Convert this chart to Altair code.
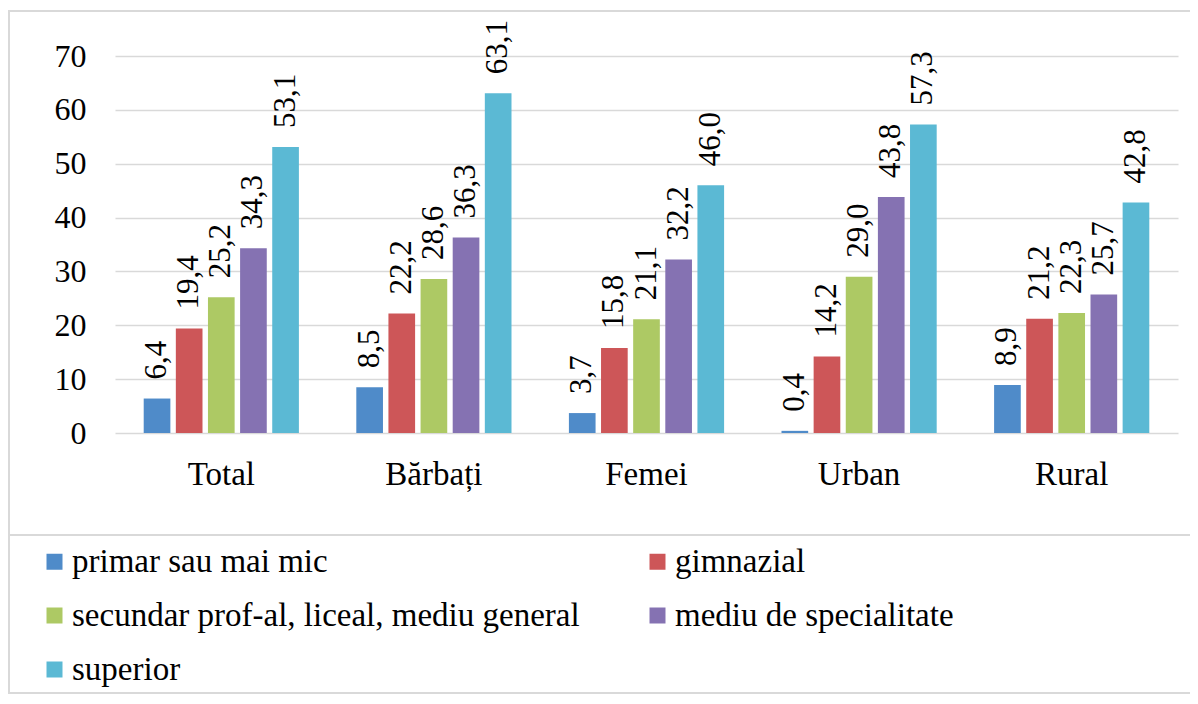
import altair as alt
import pandas as pd

categories = ["Total", "Bărbați", "Femei", "Urban", "Rural"]
series = ["primar sau mai mic", "gimnazial", "secundar prof-al, liceal, mediu general",
          "mediu de specialitate", "superior"]
colors = ["#4f8bc9", "#cd5658", "#adc964", "#8572b2", "#5bb9d4"]

primar = [6.4, 8.5, 3.7, 0.4, 8.9]
gimnazial = [19.4, 22.2, 15.8, 14.2, 21.2]
secundar = [25.2, 28.6, 21.1, 29.0, 22.3]
mediu = [34.3, 36.3, 32.2, 43.8, 25.7]
superior = [53.1, 63.1, 46.0, 57.3, 42.8]

y_ticks = [0, 10, 20, 30, 40, 50, 60, 70]

rows = []
for s, vals in zip(series, [primar, gimnazial, secundar, mediu, superior]):
    for c, v in zip(categories, vals):
        rows.append({"cat": c, "serie": s, "val": v,
                     "label": f"{v:.1f}".replace(".", ",")})
df = pd.DataFrame(rows)

FONT = "Liberation Serif"
W, H = 1063, 377

y_axis = alt.Axis(values=y_ticks, labelFont=FONT, labelFontSize=32,
                  labelColor="#000000", labelPadding=29, ticks=False,
                  tickSize=0, domain=False, grid=True,
                  gridColor="#d9d9d9", gridWidth=1.5)

base = alt.Chart(df).encode(
    x=alt.X("cat:N", sort=categories, title=None,
            scale=alt.Scale(paddingInner=0.27, paddingOuter=0.135),
            axis=alt.Axis(labelAngle=0, labelFont=FONT, labelFontSize=33,
                          labelColor="#000000", labelPadding=25, ticks=False,
                          tickSize=0, domain=False, grid=False)),
    xOffset=alt.XOffset("serie:N", sort=series,
                        scale=alt.Scale(paddingInner=0.17, paddingOuter=0)),
    y=alt.Y("val:Q", title=None,
            scale=alt.Scale(domain=[0, 70], nice=False), axis=y_axis),
)

bars = base.mark_bar().encode(
    color=alt.Color("serie:N", sort=series,
                    scale=alt.Scale(domain=series, range=colors),
                    legend=alt.Legend(title=None, orient="none", direction="horizontal",
                                      legendX=-77, legendY=489, columns=2,
                                      columnPadding=61, rowPadding=20,
                                      symbolType="square", symbolSize=256,
                                      symbolStrokeWidth=0,
                                      labelFont=FONT, labelFontSize=33,
                                      labelColor="#000000", labelOffset=1,
                                      labelLimit=800, padding=0)),
)

labels = base.mark_text(angle=270, align="left", baseline="middle", dx=19,
                        font=FONT, fontSize=31, color="#000000").encode(
    text="label:N",
)

frame_df = pd.DataFrame({"k": [0]})
frame_color = "#d9d9d9"
top_line = alt.Chart(frame_df).mark_rule(color=frame_color, strokeWidth=2).encode(
    x=alt.value(-107), x2=alt.value(1075), y=alt.value(-45))
left_line = alt.Chart(frame_df).mark_rule(color=frame_color, strokeWidth=2).encode(
    x=alt.value(-106), y=alt.value(-45), y2=alt.value(637))
sep_line = alt.Chart(frame_df).mark_rule(color=frame_color, strokeWidth=2).encode(
    x=alt.value(-107), x2=alt.value(1075), y=alt.value(479))
bottom_line = alt.Chart(frame_df).mark_rule(color=frame_color, strokeWidth=2).encode(
    x=alt.value(-107), x2=alt.value(1075), y=alt.value(637))

chart = alt.layer(bars, labels, top_line, left_line, sep_line, bottom_line).properties(
    width=W, height=H,
    background="white",
    autosize=alt.AutoSizeParams(type="none"),
    padding={"left": 107, "top": 48, "right": 12, "bottom": 263},
).configure_view(stroke=None)

chart.save("out.html", embed_options={"renderer": "svg", "actions": False})
